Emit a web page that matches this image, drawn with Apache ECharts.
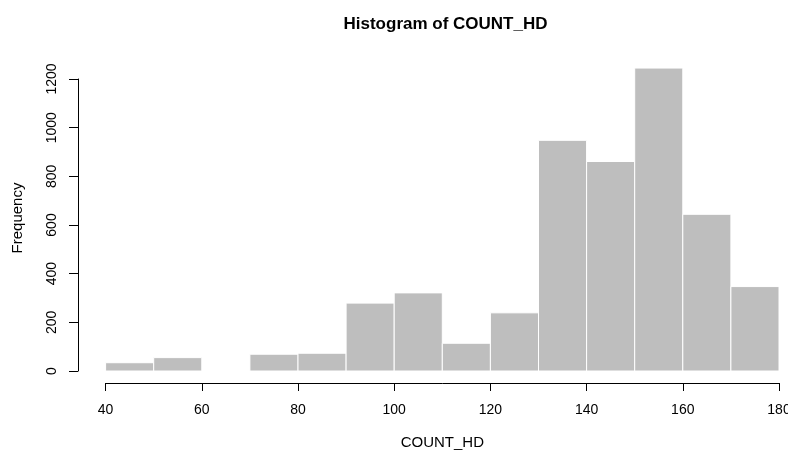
<!DOCTYPE html>
<html>
<head>
<meta charset="utf-8">
<script src="https://cdn.jsdelivr.net/npm/echarts@6/dist/echarts.min.js"></script>
<style>
html,body{margin:0;padding:0;background:#fff;}
#chart{width:788px;height:452px;}
</style>
</head>
<body>
<div id="chart"></div>
<script>
const binStart = [40, 50, 60, 70, 80, 90, 100, 110, 120, 130, 140, 150, 160, 170];
const binEnd   = [50, 60, 70, 80, 90, 100, 110, 120, 130, 140, 150, 160, 170, 180];
const counts   = [34, 55, 0, 69, 73, 279, 321, 114, 239, 948, 861, 1245, 644, 347];
const xTicks = [40, 60, 80, 100, 120, 140, 160, 180];
const yTicks = [0, 200, 400, 600, 800, 1000, 1200];

const data = binStart.map((s, i) => [s, binEnd[i], counts[i]]);
const FONT = 'Liberation Sans, Arial, sans-serif';

const chart = echarts.init(document.getElementById('chart'));
chart.setOption({
  animation: false,
  backgroundColor: '#ffffff',
  title: {
    text: 'Histogram of COUNT_HD',
    left: 440.5, top: 11, textAlign: 'center',
    textStyle: {fontFamily: FONT, fontWeight: 'bold', fontSize: 17, color: '#000'}
  },
  grid: {left: 105.6, right: 9, top: 79, bottom: 81, containLabel: false, outerBoundsMode: 'none'},
  xAxis: {
    type: 'value', min: xTicks[0], max: xTicks[xTicks.length - 1], interval: 20,
    offset: 12,
    name: 'COUNT_HD', nameLocation: 'middle', nameGap: 52,
    nameTextStyle: {fontFamily: FONT, fontSize: 15, color: '#000'},
    axisLine: {show: true, onZero: false, lineStyle: {color: '#000', width: 1}},
    axisTick: {show: true, length: 8, lineStyle: {color: '#000'}},
    axisLabel: {fontFamily: FONT, fontSize: 14, color: '#000', margin: 20,
      formatter: v => xTicks.includes(v) ? String(v) : ''},
    splitLine: {show: false}
  },
  yAxis: {
    type: 'value', min: yTicks[0], max: yTicks[yTicks.length - 1], interval: 200,
    offset: 27.6,
    name: 'Frequency', nameLocation: 'middle', nameGap: 53, nameRotate: 90,
    nameTextStyle: {fontFamily: FONT, fontSize: 15, color: '#000', padding: [0, 0, 0, 14]},
    axisLine: {show: true, onZero: false, lineStyle: {color: '#000', width: 1}},
    axisTick: {show: true, length: 9, lineStyle: {color: '#000'}},
    axisLabel: {fontFamily: FONT, fontSize: 14, color: '#000', margin: 19, rotate: 90,
      formatter: v => yTicks.includes(v) ? String(v) : ''},
    splitLine: {show: false}
  },
  series: [{
    type: 'custom',
    clip: false,
    data: data,
    encode: {x: [0, 1], y: 2},
    renderItem: function (params, api) {
      if (api.value(2) <= 0) return null;
      const top = api.coord([api.value(0), api.value(2)]);
      const bot = api.coord([api.value(1), 0]);
      return {
        type: 'rect',
        shape: {x: top[0], y: top[1], width: bot[0] - top[0], height: bot[1] - top[1]},
        style: {fill: '#bebebe', stroke: '#ffffff', lineWidth: 1}
      };
    }
  }]
});
</script>
</body>
</html>
